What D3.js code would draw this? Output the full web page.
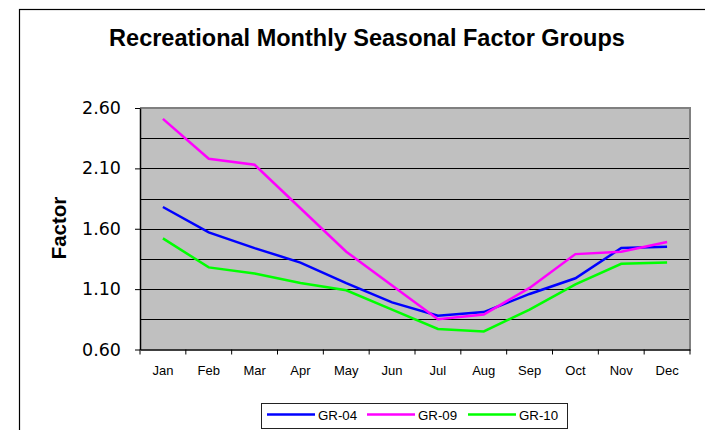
<!DOCTYPE html>
<html>
<head>
<meta charset="utf-8">
<script src="https://cdn.jsdelivr.net/npm/d3@7"></script>
<style>
  body { margin: 0; background: #fff; }
  svg { display: block; font-family: "Liberation Sans", Arial, sans-serif; }
</style>
</head>
<body>
<div id="chart"></div>
<script>
// datos
const months = ["Jan", "Feb", "Mar", "Apr", "May", "Jun", "Jul", "Aug", "Sep", "Oct", "Nov", "Dec"];
const gr04 = [1.78, 1.57, 1.44, 1.32, 1.15, 0.99, 0.88, 0.91, 1.06, 1.19, 1.44, 1.45];
const gr09 = [2.51, 2.18, 2.13, 1.77, 1.41, 1.13, 0.85, 0.89, 1.11, 1.39, 1.41, 1.49];
const gr10 = [1.52, 1.28, 1.23, 1.15, 1.09, 0.93, 0.77, 0.75, 0.93, 1.14, 1.31, 1.32];
const yLabels = [0.6, 1.1, 1.6, 2.1, 2.6];
const gridValues = [0.85, 1.1, 1.35, 1.6, 1.85, 2.1, 2.35];

const series = [
    { name: "GR-04", values: gr04, color: "#0000ff" },
    { name: "GR-09", values: gr09, color: "#ff00ff" },
    { name: "GR-10", values: gr10, color: "#00ff00" }
];

const W = 705, H = 430;
const plot = { left: 140, right: 690, top: 108, bottom: 349.5 };

const svg = d3.select("#chart").append("svg")
    .attr("width", W)
    .attr("height", H);

// marco exterior
svg.append("rect")
    .attr("x", 19.5).attr("y", 9.5)
    .attr("width", 700).attr("height", 440)
    .attr("fill", "none").attr("stroke", "#000").attr("stroke-width", 1.2);

// titulo
svg.append("text")
    .attr("x", 367).attr("y", 46)
    .attr("text-anchor", "middle")
    .style("font-size", "23.5px").style("font-weight", "bold")
    .text("Recreational Monthly Seasonal Factor Groups");

const x = d3.scaleBand()
    .domain(months)
    .range([plot.left, plot.right]);

const y = d3.scaleLinear()
    .domain([0.6, 2.6])
    .range([plot.bottom, plot.top]);

// fondo gris
svg.append("rect")
    .attr("x", plot.left).attr("y", plot.top)
    .attr("width", plot.right - plot.left).attr("height", plot.bottom - plot.top)
    .attr("fill", "#c0c0c0");

// lineas de cuadricula
svg.selectAll("line.grid")
    .data(gridValues)
    .join("line")
    .attr("class", "grid")
    .attr("x1", plot.left).attr("x2", plot.right)
    .attr("y1", d => Math.round(y(d)) + 0.5).attr("y2", d => Math.round(y(d)) + 0.5)
    .attr("stroke", "#000").attr("stroke-width", 1);

// borde gris arriba y derecha
svg.append("path")
    .attr("d", `M${plot.left},${plot.top} H${plot.right} V${plot.bottom}`)
    .attr("fill", "none").attr("stroke", "#808080").attr("stroke-width", 2);

// eje Y
const yAxis = svg.append("g")
    .attr("transform", `translate(${plot.left},0)`)
    .call(d3.axisLeft(y).tickValues(yLabels).tickFormat(d3.format(".2f")).tickSize(5).tickSizeOuter(0));
yAxis.select(".domain").attr("stroke", "#000").attr("stroke-width", 1.5);
yAxis.selectAll("text")
    .attr("x", -19)
    .style("font-size", "17.5px")
    .style("font-family", "DejaVu Sans, sans-serif")
    .attr("fill", "#000");

// eje X (marcas entre categorias)
const xAxis = svg.append("g")
    .attr("transform", `translate(0,${plot.bottom})`)
    .call(d3.axisBottom(x).tickSize(0).tickPadding(16));
xAxis.select(".domain").attr("stroke", "#000").attr("stroke-width", 1.5);
xAxis.selectAll("text")
    .style("font-size", "13px")
    .style("font-family", "Liberation Sans, Arial, sans-serif")
    .attr("fill", "#000");
xAxis.selectAll("line.sep")
    .data(months.concat(["end"]))
    .join("line")
    .attr("class", "sep")
    .attr("x1", (d, i) => plot.left + i * x.step())
    .attr("x2", (d, i) => plot.left + i * x.step())
    .attr("y1", 0).attr("y2", 5)
    .attr("stroke", "#000");

// titulo eje Y
svg.append("text")
    .attr("transform", "translate(66,228) rotate(-90)")
    .attr("text-anchor", "middle")
    .style("font-size", "20.5px").style("font-weight", "bold")
    .text("Factor");

// lineas de series
const line = d3.line()
    .x((d, i) => x(months[i]) + x.bandwidth() / 2)
    .y(d => y(d));

svg.selectAll("path.serie")
    .data(series)
    .join("path")
    .attr("class", "serie")
    .attr("d", d => line(d.values))
    .attr("fill", "none")
    .attr("stroke", d => d.color)
    .attr("stroke-width", 2.5);

// leyenda
const legend = svg.append("g");
legend.append("rect")
    .attr("x", 261.5).attr("y", 403.5)
    .attr("width", 306).attr("height", 25)
    .attr("fill", "#fff").attr("stroke", "#222").attr("stroke-width", 1);

const legendX = [267, 367, 468];
series.forEach((s, i) => {
    legend.append("line")
        .attr("x1", legendX[i]).attr("x2", legendX[i] + 48)
        .attr("y1", 414.5).attr("y2", 414.5)
        .attr("stroke", s.color).attr("stroke-width", 2.5);
    legend.append("text")
        .attr("x", legendX[i] + 51).attr("y", 419.5)
        .style("font-size", "13.3px")
        .text(s.name);
});
</script>
</body>
</html>
